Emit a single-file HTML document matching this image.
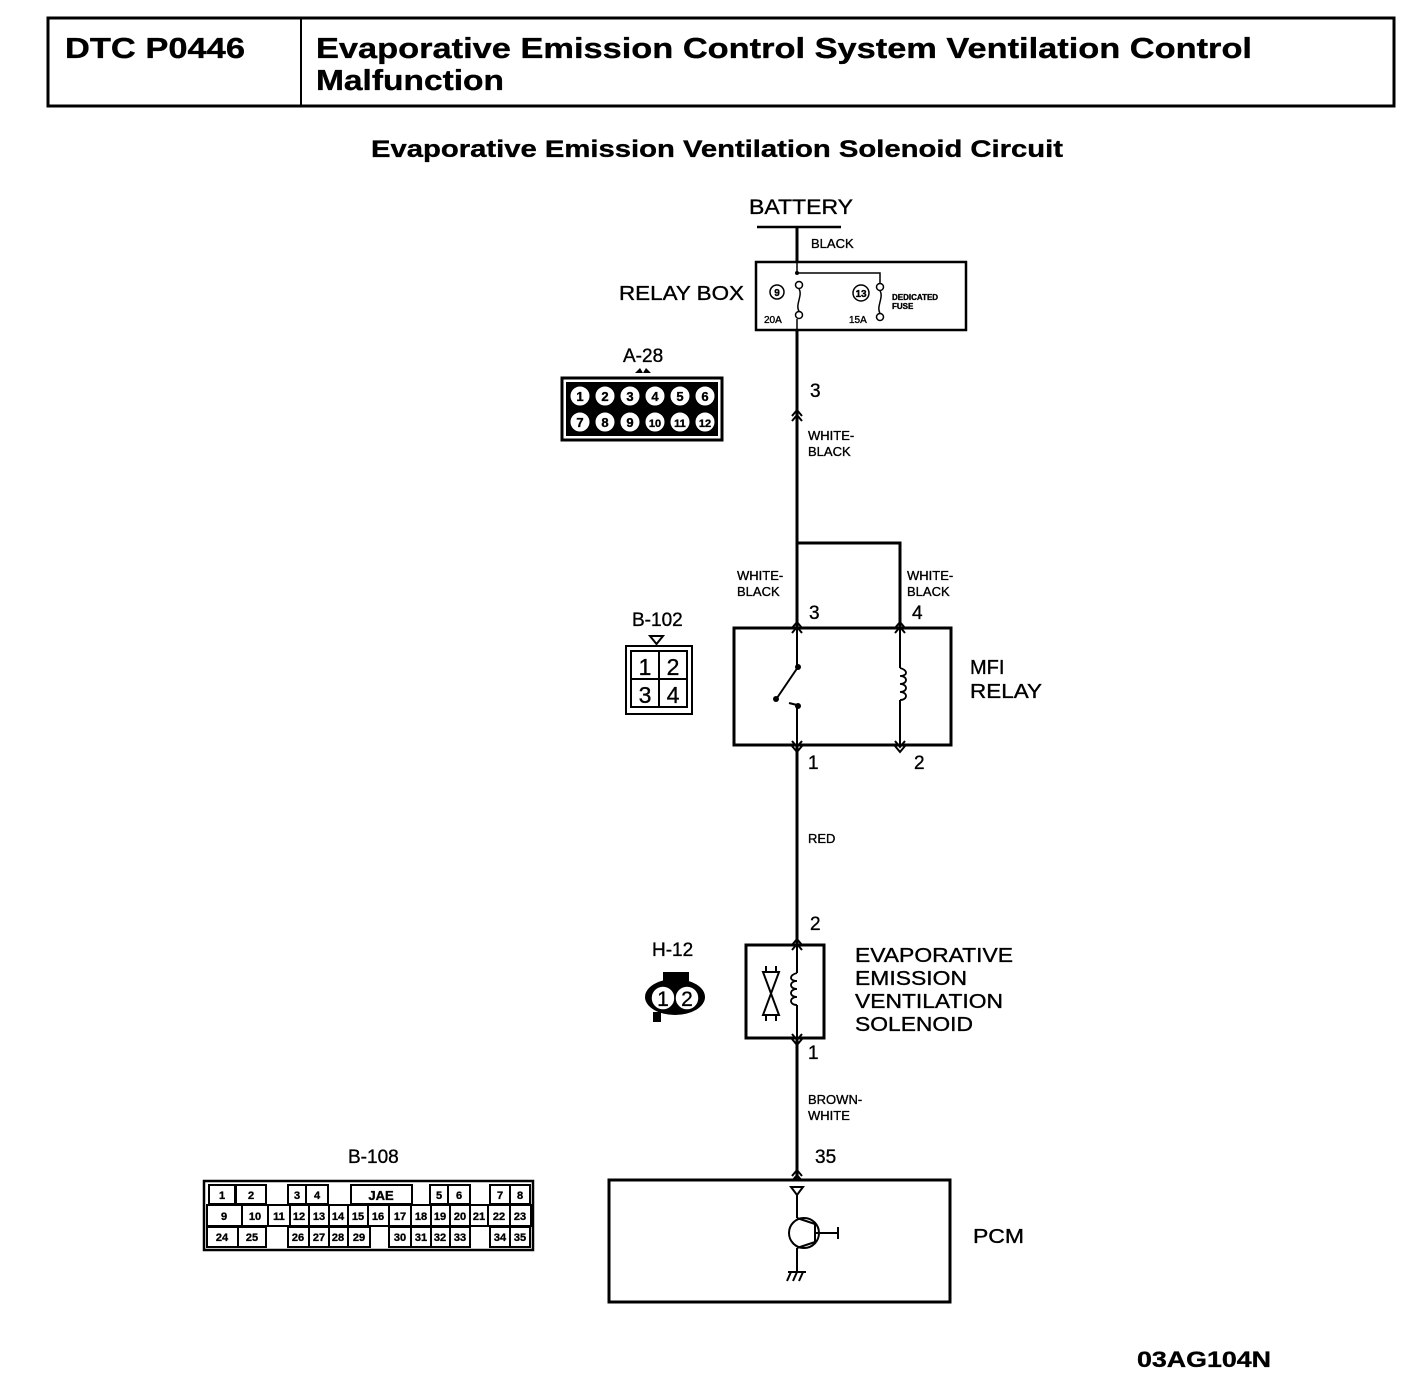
<!DOCTYPE html>
<html><head><meta charset="utf-8"><style>
html,body{margin:0;padding:0;background:#fff;}
svg{display:block;}
text{font-family:"Liberation Sans",Arial,sans-serif;fill:#000;stroke:#000;stroke-width:0.35;}
.b{font-weight:bold;}
</style></head><body>
<svg width="1408" height="1388" viewBox="0 0 1408 1388" xmlns="http://www.w3.org/2000/svg">
<defs>
<g id="up"><path d="M-5,6 L0,0 L5,6 M-5,11 L0,5 L5,11" fill="none" stroke="#000" stroke-width="2"/></g>
<g id="dn"><path d="M-5,-6 L0,0 L5,-6 M-5,-11 L0,-5 L5,-11" fill="none" stroke="#000" stroke-width="2"/></g>
</defs>
<!-- header -->
<rect x="48" y="18" width="1346" height="88" fill="none" stroke="#000" stroke-width="3"/>
<line x1="301" y1="18" x2="301" y2="106" stroke="#000" stroke-width="2"/>
<text x="65" y="58" class="b" font-size="29" textLength="180" lengthAdjust="spacingAndGlyphs">DTC P0446</text>
<text x="316" y="58" class="b" font-size="29" textLength="936" lengthAdjust="spacingAndGlyphs">Evaporative Emission Control System Ventilation Control</text>
<text x="316" y="90" class="b" font-size="29" textLength="188" lengthAdjust="spacingAndGlyphs">Malfunction</text>
<text x="371" y="157" class="b" font-size="24" textLength="692" lengthAdjust="spacingAndGlyphs">Evaporative Emission Ventilation Solenoid Circuit</text>

<!-- battery -->
<text x="749" y="214" font-size="21" textLength="104" lengthAdjust="spacingAndGlyphs">BATTERY</text>
<line x1="757" y1="227" x2="841" y2="227" stroke="#000" stroke-width="2.5"/>
<line x1="797" y1="227" x2="797" y2="262" stroke="#000" stroke-width="3"/>
<text x="811" y="248" font-size="13">BLACK</text>

<!-- relay box -->
<text x="619" y="300" font-size="20" textLength="125" lengthAdjust="spacingAndGlyphs">RELAY BOX</text>
<rect x="756" y="262" width="210" height="68" fill="none" stroke="#000" stroke-width="2.5"/>
<path d="M797,262 V273 H880 V283" fill="none" stroke="#000" stroke-width="1.5"/>
<circle cx="797" cy="273" r="2" fill="#000"/>
<circle cx="799" cy="285" r="3.5" fill="#fff" stroke="#000" stroke-width="1.5"/>
<path d="M799,289 C803,295 795,305 799,311" fill="none" stroke="#000" stroke-width="1.5"/>
<circle cx="799" cy="315" r="3.5" fill="#fff" stroke="#000" stroke-width="1.5"/>
<line x1="797" y1="319" x2="797" y2="330" stroke="#000" stroke-width="1.5"/>
<circle cx="777" cy="292" r="7" fill="none" stroke="#000" stroke-width="1.5"/>
<text x="777" y="296" font-size="10" text-anchor="middle" class="b">9</text>
<text x="764" y="323" font-size="10">20A</text>
<circle cx="880" cy="287" r="3.5" fill="#fff" stroke="#000" stroke-width="1.5"/>
<path d="M880,291 C884,297 876,307 880,313" fill="none" stroke="#000" stroke-width="1.5"/>
<circle cx="880" cy="317" r="3.5" fill="#fff" stroke="#000" stroke-width="1.5"/>
<circle cx="861" cy="293" r="8" fill="none" stroke="#000" stroke-width="1.5"/>
<text x="861" y="297" font-size="10" text-anchor="middle" class="b">13</text>
<text x="849" y="323" font-size="10">15A</text>
<text x="892" y="300" font-size="8" class="b">DEDICATED</text>
<text x="892" y="309" font-size="8" class="b">FUSE</text>

<!-- wire to MFI -->
<line x1="797" y1="330" x2="797" y2="628" stroke="#000" stroke-width="3"/>
<use href="#up" x="797" y="410"/>
<text x="810" y="397" font-size="19">3</text>
<text x="808" y="440" font-size="13">WHITE-</text>
<text x="808" y="456" font-size="13">BLACK</text>
<path d="M797,543 H900 V628" fill="none" stroke="#000" stroke-width="3"/>
<text x="737" y="580" font-size="13">WHITE-</text>
<text x="737" y="596" font-size="13">BLACK</text>
<text x="907" y="580" font-size="13">WHITE-</text>
<text x="907" y="596" font-size="13">BLACK</text>
<text x="809" y="619" font-size="19">3</text>
<text x="912" y="619" font-size="19">4</text>

<!-- A-28 -->
<text x="623" y="362" font-size="19">A-28</text>
<path d="M635,373 L640,368 L643,373 L646,368 L651,373 Z" fill="#000"/>
<rect x="562" y="378" width="160" height="62" fill="none" stroke="#000" stroke-width="3"/>
<rect x="566" y="382" width="152" height="54" fill="#000"/>
<g font-size="13" class="b" text-anchor="middle">
<g fill="#fff" stroke="#000" stroke-width="1">
<circle cx="580" cy="396" r="10"/><circle cx="605" cy="396" r="10"/><circle cx="630" cy="396" r="10"/><circle cx="655" cy="396" r="10"/><circle cx="680" cy="396" r="10"/><circle cx="705" cy="396" r="10"/>
<circle cx="580" cy="422" r="10"/><circle cx="605" cy="422" r="10"/><circle cx="630" cy="422" r="10"/><circle cx="655" cy="422" r="10"/><circle cx="680" cy="422" r="10"/><circle cx="705" cy="422" r="10"/>
</g>
<text x="580" y="401">1</text><text x="605" y="401">2</text><text x="630" y="401">3</text><text x="655" y="401">4</text><text x="680" y="401">5</text><text x="705" y="401">6</text>
<text x="580" y="427">7</text><text x="605" y="427">8</text><text x="630" y="427">9</text><text x="655" y="427" font-size="11">10</text><text x="680" y="427" font-size="11">11</text><text x="705" y="427" font-size="11">12</text>
</g>

<!-- MFI relay -->
<rect x="734" y="628" width="217" height="117" fill="none" stroke="#000" stroke-width="3"/>
<use href="#up" x="797" y="622"/><use href="#up" x="900" y="622"/>
<line x1="797" y1="628" x2="797" y2="667" stroke="#000" stroke-width="2"/>
<circle cx="798" cy="667" r="3" fill="#000"/>
<line x1="798" y1="667" x2="777" y2="698" stroke="#000" stroke-width="2"/>
<circle cx="776" cy="699" r="3" fill="#000"/>
<path d="M789,703 L797,705" stroke="#000" stroke-width="2"/>
<circle cx="798" cy="706" r="3" fill="#000"/>
<line x1="797" y1="706" x2="797" y2="745" stroke="#000" stroke-width="2"/>
<line x1="900" y1="628" x2="900" y2="668" stroke="#000" stroke-width="2"/>
<path d="M900,668 c8,2 8,8 0,8 c8,0 8,8 0,8 c8,0 8,8 0,8 c8,0 8,8 0,8" fill="none" stroke="#000" stroke-width="1.8"/>
<line x1="900" y1="700" x2="900" y2="745" stroke="#000" stroke-width="2"/>
<use href="#dn" x="797" y="752"/><use href="#dn" x="900" y="752"/>
<text x="970" y="674" font-size="20">MFI</text>
<text x="970" y="698" font-size="20" textLength="72" lengthAdjust="spacingAndGlyphs">RELAY</text>
<text x="808" y="769" font-size="19">1</text>
<text x="914" y="769" font-size="19">2</text>

<!-- B-102 -->
<text x="632" y="626" font-size="19">B-102</text>
<path d="M650,636 L663,636 L656.5,644 Z" fill="none" stroke="#000" stroke-width="2"/>
<rect x="626" y="646" width="66" height="68" fill="none" stroke="#000" stroke-width="2"/>
<rect x="631" y="651" width="56" height="56" fill="none" stroke="#000" stroke-width="2"/>
<line x1="659" y1="651" x2="659" y2="707" stroke="#000" stroke-width="2"/>
<line x1="631" y1="679" x2="687" y2="679" stroke="#000" stroke-width="2"/>
<text x="645" y="675" font-size="23" text-anchor="middle">1</text><text x="673" y="675" font-size="23" text-anchor="middle">2</text>
<text x="645" y="703" font-size="23" text-anchor="middle">3</text><text x="673" y="703" font-size="23" text-anchor="middle">4</text>

<!-- RED wire -->
<line x1="797" y1="745" x2="797" y2="945" stroke="#000" stroke-width="3"/>
<text x="808" y="843" font-size="13">RED</text>
<text x="810" y="930" font-size="19">2</text>

<!-- H-12 -->
<text x="652" y="956" font-size="19">H-12</text>
<rect x="663" y="972" width="26" height="9" fill="#000"/>
<ellipse cx="675" cy="997" rx="30" ry="18" fill="#000"/>
<rect x="653" y="1012" width="8" height="10" fill="#000"/>
<circle cx="663" cy="998" r="12" fill="#fff" stroke="#000" stroke-width="1.5"/>
<circle cx="687" cy="998" r="12" fill="#fff" stroke="#000" stroke-width="1.5"/>
<text x="663" y="1006" font-size="21" text-anchor="middle">1</text>
<text x="687" y="1006" font-size="21" text-anchor="middle">2</text>

<!-- solenoid -->
<rect x="746" y="945" width="78" height="93" fill="none" stroke="#000" stroke-width="3"/>
<use href="#up" x="797" y="939"/>
<line x1="797" y1="945" x2="797" y2="973" stroke="#000" stroke-width="2"/>
<path d="M797,973 c-8,2 -8,8 0,8 c-8,0 -8,8 0,8 c-8,0 -8,8 0,8 c-8,0 -8,8 0,8" fill="none" stroke="#000" stroke-width="1.8"/>
<line x1="797" y1="1005" x2="797" y2="1038" stroke="#000" stroke-width="2"/>
<path d="M763,972 H779 L763,1015 H779 Z" fill="none" stroke="#000" stroke-width="2"/>
<line x1="766" y1="966" x2="766" y2="972" stroke="#000" stroke-width="2"/><line x1="776" y1="966" x2="776" y2="972" stroke="#000" stroke-width="2"/>
<line x1="766" y1="1015" x2="766" y2="1021" stroke="#000" stroke-width="2"/><line x1="776" y1="1015" x2="776" y2="1021" stroke="#000" stroke-width="2"/>
<use href="#dn" x="797" y="1045"/>
<text x="855" y="962" font-size="20" textLength="158" lengthAdjust="spacingAndGlyphs">EVAPORATIVE</text>
<text x="855" y="985" font-size="20" textLength="112" lengthAdjust="spacingAndGlyphs">EMISSION</text>
<text x="855" y="1008" font-size="20" textLength="148" lengthAdjust="spacingAndGlyphs">VENTILATION</text>
<text x="855" y="1031" font-size="20" textLength="118" lengthAdjust="spacingAndGlyphs">SOLENOID</text>
<text x="808" y="1059" font-size="19">1</text>

<!-- brown-white wire -->
<line x1="797" y1="1038" x2="797" y2="1180" stroke="#000" stroke-width="3"/>
<text x="808" y="1104" font-size="13">BROWN-</text>
<text x="808" y="1120" font-size="13">WHITE</text>
<text x="815" y="1163" font-size="19">35</text>
<use href="#up" x="797" y="1170"/>

<!-- PCM -->
<rect x="609" y="1180" width="341" height="122" fill="none" stroke="#000" stroke-width="3"/>
<path d="M791,1187 H803 L797,1195 Z" fill="none" stroke="#000" stroke-width="2"/>
<line x1="797" y1="1195" x2="797" y2="1218" stroke="#000" stroke-width="2"/>
<circle cx="804" cy="1233" r="15" fill="none" stroke="#000" stroke-width="2"/>
<path d="M797,1218 L815,1224 V1242 L797,1248" fill="none" stroke="#000" stroke-width="2"/>
<line x1="815" y1="1233" x2="838" y2="1233" stroke="#000" stroke-width="2"/>
<line x1="838" y1="1227" x2="838" y2="1239" stroke="#000" stroke-width="2"/>
<line x1="797" y1="1248" x2="797" y2="1272" stroke="#000" stroke-width="2"/>
<line x1="788" y1="1272" x2="806" y2="1272" stroke="#000" stroke-width="2"/>
<path d="M791,1272 l-4,9 M797,1272 l-4,9 M803,1272 l-4,9" stroke="#000" stroke-width="2"/>
<text x="973" y="1243" font-size="20" textLength="51" lengthAdjust="spacingAndGlyphs">PCM</text>

<!-- B-108 -->
<text x="348" y="1163" font-size="19">B-108</text>
<rect x="204" y="1181" width="329" height="69" fill="none" stroke="#000" stroke-width="2.5"/>
<g fill="none" stroke="#000" stroke-width="2">
<rect x="209" y="1185" width="26" height="19"/><rect x="236" y="1185" width="30" height="19"/>
<rect x="288" y="1185" width="18" height="19"/><rect x="306" y="1185" width="22" height="19"/>
<rect x="351" y="1185" width="61" height="19"/>
<rect x="430" y="1185" width="18" height="19"/><rect x="448" y="1185" width="22" height="19"/>
<rect x="490" y="1185" width="20" height="19"/><rect x="510" y="1185" width="20" height="19"/>
<rect x="207" y="1205" width="324" height="21"/>
<path d="M242,1205V1226 M268,1205V1226 M290,1205V1226 M309,1205V1226 M329,1205V1226 M348,1205V1226 M368,1205V1226 M389,1205V1226 M411,1205V1226 M431,1205V1226 M450,1205V1226 M470,1205V1226 M488,1205V1226 M510,1205V1226"/>
<rect x="207" y="1227" width="31" height="20"/><rect x="238" y="1227" width="28" height="20"/>
<rect x="288" y="1227" width="82" height="20"/>
<path d="M309,1227V1247 M329,1227V1247 M348,1227V1247"/>
<rect x="389" y="1227" width="81" height="20"/>
<path d="M411,1227V1247 M431,1227V1247 M450,1227V1247"/>
<rect x="490" y="1227" width="40" height="20"/><path d="M510,1227V1247"/>
</g>
<g font-size="11" class="b" text-anchor="middle">
<text x="222" y="1199">1</text><text x="251" y="1199">2</text><text x="297" y="1199">3</text><text x="317" y="1199">4</text><text x="381" y="1200" font-size="13">JAE</text><text x="439" y="1199">5</text><text x="459" y="1199">6</text><text x="500" y="1199">7</text><text x="520" y="1199">8</text>
<text x="224" y="1220">9</text><text x="255" y="1220">10</text><text x="279" y="1220">11</text><text x="299" y="1220">12</text><text x="319" y="1220">13</text><text x="338" y="1220">14</text><text x="358" y="1220">15</text><text x="378" y="1220">16</text><text x="400" y="1220">17</text><text x="421" y="1220">18</text><text x="440" y="1220">19</text><text x="460" y="1220">20</text><text x="479" y="1220">21</text><text x="499" y="1220">22</text><text x="520" y="1220">23</text>
<text x="222" y="1241">24</text><text x="252" y="1241">25</text><text x="298" y="1241">26</text><text x="319" y="1241">27</text><text x="338" y="1241">28</text><text x="359" y="1241">29</text><text x="400" y="1241">30</text><text x="421" y="1241">31</text><text x="440" y="1241">32</text><text x="460" y="1241">33</text><text x="500" y="1241">34</text><text x="520" y="1241">35</text>
</g>

<text x="1137" y="1367" class="b" font-size="22" textLength="134" lengthAdjust="spacingAndGlyphs">03AG104N</text>
</svg>
</body></html>
